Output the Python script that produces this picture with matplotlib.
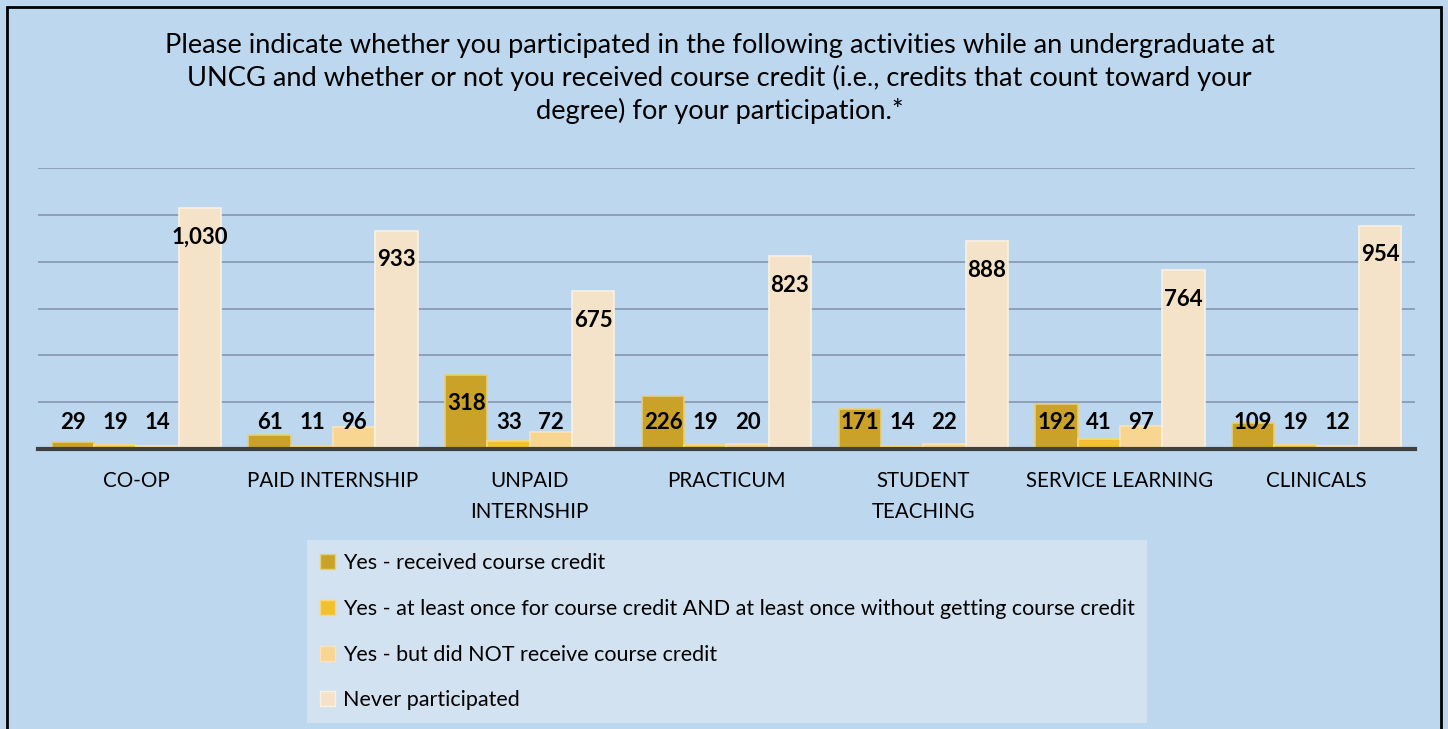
import matplotlib.pyplot as plt
import numpy as np
from matplotlib.patches import Rectangle, Patch

categories = ['CO-OP', 'PAID INTERNSHIP', 'UNPAID\nINTERNSHIP', 'PRACTICUM',
              'STUDENT\nTEACHING', 'SERVICE LEARNING', 'CLINICALS']
series = ['Yes - received course credit',
          'Yes - at least once for course credit AND at least once without getting course credit',
          'Yes - but did NOT receive course credit',
          'Never participated']
received = [29, 61, 318, 226, 171, 192, 109]
both = [19, 11, 33, 19, 14, 41, 19]
no_credit = [14, 96, 72, 20, 22, 97, 12]
never = [1030, 933, 675, 823, 888, 764, 954]

colors = ['#C9A227', '#F2C12E', '#F8D590', '#F4E3C8']
edges = ['#E6CF7A', '#F7DA7A', '#FBE4B8', '#FAF1E2']

plt.rcParams['font.family'] = ['Lato', 'DejaVu Sans']
bg = '#BDD7EE'

fig = plt.figure(figsize=(14.48, 7.29), dpi=100, facecolor=bg)
ax = fig.add_axes([38/1448, 1 - 449/729, (1415 - 38)/1448, (449 - 168)/729])
ax.set_facecolor(bg)

x = np.arange(len(categories))
w = 0.215
data = [received, both, no_credit, never]
for i, vals in enumerate(data):
    pos = x + (i - 1.5) * w
    ax.bar(pos, vals, w, color=colors[i], edgecolor=edges[i], linewidth=1.2, zorder=3)
    for px_, v in zip(pos, vals):
        ax.text(px_, max(v - 125, 115), f'{v:,}', ha='center', va='center',
                fontsize=16, fontweight='bold', color='black', zorder=4)

ax.set_ylim(0, 1200)
ax.set_xlim(-0.5, len(categories) - 0.5)
ax.set_yticks(np.arange(200, 1201, 200))
ax.yaxis.grid(True, color='#8497B0', linewidth=1.2, zorder=0)
ax.tick_params(axis='y', length=0, labelleft=False)
ax.set_xticks(x)
ax.set_xticklabels(categories, fontsize=14.8, linespacing=1.65)
ax.tick_params(axis='x', length=0, pad=16)
for s in ['top', 'right', 'left']:
    ax.spines[s].set_visible(False)
ax.spines['bottom'].set_color('#404040')
ax.spines['bottom'].set_linewidth(3)
ax.spines['bottom'].set_zorder(5)

fig.text(0.497, 1 - 33/729,
         'Please indicate whether you participated in the following activities while an undergraduate at\n'
         'UNCG and whether or not you received course credit (i.e., credits that count toward your\n'
         'degree) for your participation.*',
         ha='center', va='top', fontsize=19.6, linespacing=1.32)

handles = [Patch(facecolor=c, edgecolor=e) for c, e in zip(colors, edges)]
leg = fig.legend(handles, series, loc='upper left', bbox_to_anchor=(307/1448, 1 - 540/729),
                 frameon=True, fontsize=15.5, labelspacing=1.2, handlelength=0.7,
                 handleheight=0.7, handletextpad=0.35, borderpad=0.6, borderaxespad=0)
leg.get_frame().set_facecolor('#D3E2F0')
leg.get_frame().set_edgecolor('none')
leg.get_frame().set_alpha(1)
leg.get_frame().set_boxstyle('square', pad=0)

fig.patches.append(Rectangle((7/1448, -0.1), (1441 - 7)/1448, 1.1 - 7/729,
                             transform=fig.transFigure, fill=False, edgecolor='black', linewidth=2))

fig.savefig('out.png', dpi=100, facecolor=bg)
